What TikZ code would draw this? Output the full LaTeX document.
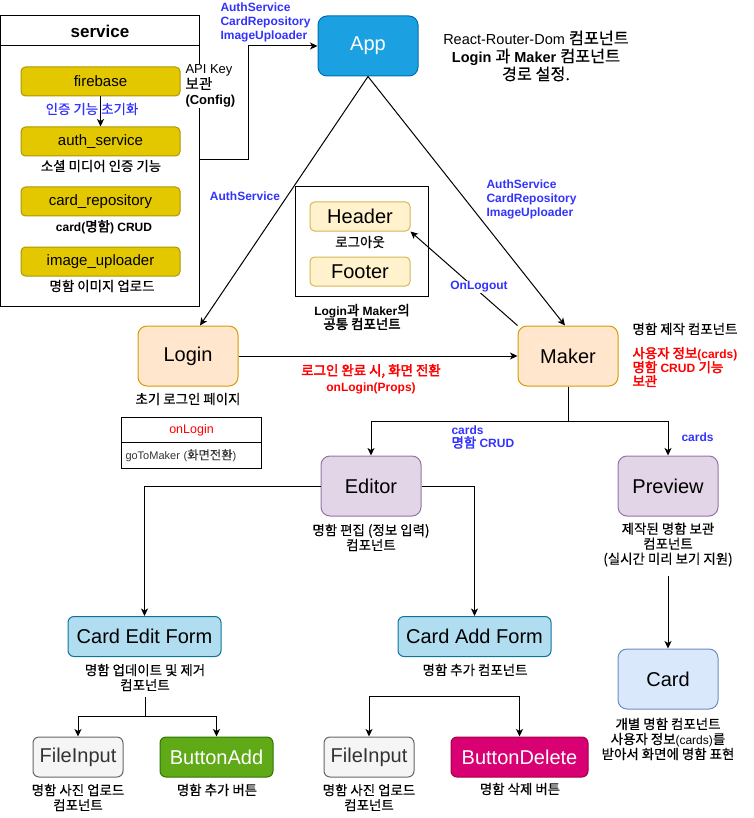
\documentclass[tikz,border=0pt]{standalone}
\usepackage{fontspec}
\setmainfont{Liberation Sans}
\newfontfamily\krfont[Scale=1.12,UprightFeatures={FakeBold=0.4},BoldFont={Noto Sans CJK KR},BoldFeatures={FakeBold=2.5}]{Noto Sans CJK KR}
\newcommand\kr[1]{{\krfont #1}}
\usetikzlibrary{arrows.meta}
\newcommand\fsz[2]{\fontsize{#1pt}{#2pt}\selectfont}
\definecolor{svcF}{HTML}{E3C800}\definecolor{svcS}{HTML}{B09500}
\definecolor{appF}{HTML}{1BA1E2}\definecolor{appS}{HTML}{006EAF}
\definecolor{orF}{HTML}{FFE6CC}\definecolor{orS}{HTML}{D79B00}
\definecolor{yeF}{HTML}{FFF2CC}\definecolor{yeS}{HTML}{D6B656}
\definecolor{puF}{HTML}{E1D5E7}\definecolor{puS}{HTML}{9673A6}
\definecolor{cyF}{HTML}{B1DDF0}\definecolor{cyS}{HTML}{10739E}
\definecolor{blF}{HTML}{DAE8FC}\definecolor{blS}{HTML}{6C8EBF}
\definecolor{grF}{HTML}{F5F5F5}\definecolor{grS}{HTML}{666666}\definecolor{grT}{HTML}{333333}
\definecolor{gnF}{HTML}{60A917}\definecolor{gnS}{HTML}{2D7600}
\definecolor{mgF}{HTML}{D80073}\definecolor{mgS}{HTML}{A50040}
\definecolor{lblue}{HTML}{3333FF}
\definecolor{lred}{HTML}{FF0000}
\begin{document}
\begin{tikzpicture}[x=1pt,y=-1pt,line width=1pt,
  arr/.style={-{Stealth[length=7.5pt,width=7pt,inset=2pt]}},
  svcitem/.style={draw=svcS,fill=svcF,rounded corners=4.5pt,minimum width=159pt,minimum height=29pt,inner sep=0pt,font=\fsz{15}{18}},
  bigbox/.style={rounded corners=9pt,minimum width=100pt,minimum height=60pt,inner sep=0pt,font=\fsz{20}{24}},
  midbox/.style={rounded corners=6pt,minimum height=40pt,inner sep=0pt,font=\fsz{20}{24}},
  smallbox/.style={draw=yeS,fill=yeF,rounded corners=4.5pt,minimum width=100pt,minimum height=29pt,inner sep=0pt,font=\fsz{20}{24}},
  lbl/.style={font=\fsz{12}{15},align=center,inner sep=0pt},
  bluelbl/.style={text=lblue,font=\bfseries\fsz{12}{14},align=left,inner sep=0pt},
  redlbl/.style={text=lred,font=\bfseries\fsz{12}{15},inner sep=0pt}]
\useasboundingbox (0,0) rectangle (753,818);

% service container
\node[draw,minimum width=198.5pt,minimum height=290pt,inner sep=0pt] (svc) at (99.75,161) {};
\draw (0.5,46) -- (199,46);
\node[font=\bfseries\fsz{17}{20}] (svctitle) at (100,31) {service};
\node[svcitem] (firebase) at (100.5,81.5) {firebase};
\node[svcitem] (auth) at (100.5,141.5) {auth\_service};
\node[svcitem] (cardrepo) at (100.5,201.5) {card\_repository};
\node[svcitem] (imgup) at (100.5,261.5) {image\_uploader};
\draw[arr] (firebase.south) -- (auth.north);
\node[lbl,text=lblue] (l-init) at (92,109) {\kr{인증 기능 초기화}};
\node[lbl] (l-auth) at (101,166) {\kr{소셜 미디어 인증 기능}};
\node[lbl,font=\bfseries\fsz{12}{15}] (l-card) at (104,227) {card(\kr{명함}) CRUD};
\node[lbl] (l-img) at (102,286) {\kr{명함 이미지 업로드}};
\node[fill=white,font=\fsz{13}{15.5},align=left,inner xsep=1pt,inner ysep=1pt,anchor=west] (apikey) at (184,86) {API Key\\\kr{보관}\\\textbf{(Config)}};

% App
\node[bigbox,draw=appS,fill=appF,text=white] (app) at (368,46) {App};
\coordinate (svcout) at (199,160);
\draw[arr] (svcout) -- (248,160) -- (248,46) -- (app.west);
\node[bluelbl,anchor=west] (l-svc) at (220,22) {AuthService\\CardRepository\\ImageUploader};
\node[font=\fsz{14.5}{18},align=center,inner sep=0pt] (l-app) at (536,56) {React-Router-Dom \kr{컴포넌트}\\\textbf{Login} \kr{과} \textbf{Maker} \kr{컴포넌트}\\\kr{경로 설정.}};

% Header / Footer
\node[draw,minimum width=133pt,minimum height=109pt,inner sep=0pt] (hf) at (361.5,241.5) {};
\node[smallbox] (header) at (360,216.5) {Header};
\node[smallbox] (footer) at (360,271.5) {Footer};
\node[lbl] (l-logout) at (360,242) {\kr{로그아웃}};
\node[lbl,font=\bfseries\fsz{12}{14}] (l-common) at (362,317) {Login\kr{과} Maker\kr{의}\\\kr{공통 컴포넌트}};

% Login / Maker
\node[bigbox,draw=orS,fill=orF] (login) at (188,356) {Login};
\node[bigbox,draw=orS,fill=orF] (maker) at (568,356) {Maker};
\draw[arr] (app.south) -- ([xshift=12pt]login.north);
\draw[arr] (app.south) -- ([xshift=-3pt]maker.north);
\node[bluelbl] (l-as) at (245,196) {AuthService};
\node[bluelbl,anchor=west] (l-acr) at (486,199) {AuthService\\CardRepository\\ImageUploader};
\draw[arr] (maker.north west) -- (header.south east);
\node[bluelbl,fill=white,inner sep=1pt] (l-onlogout) at (479,287) {OnLogout};
\draw[arr] (login.east) -- (maker.west);
\node[redlbl,align=center,font=\bfseries\fsz{12}{16}] (l-login) at (371,379) {\kr{로그인 완료 시, 화면 전환}\\onLogin(Props)};
\node[lbl] (l-loginpage) at (188,399) {\kr{초기 로그인 페이지}};
\node[draw,minimum width=140pt,minimum height=25pt,inner sep=0pt,anchor=north west,text=lred,font=\fsz{12.5}{15}] (onlogin) at (121,417) {onLogin};
\node[draw,text width=132pt,inner xsep=4pt,inner ysep=0pt,minimum height=26pt,align=left,anchor=north west,font=\fsz{11}{13},text=grT] (gotomaker) at (121,442) {goToMaker (\kr{화면전환})};
\node[lbl,anchor=west] (l-maker) at (632,329) {\kr{명함 제작 컴포넌트}};
\node[redlbl,align=left,font=\bfseries\fsz{12}{14},anchor=west] (l-makerred) at (632,367) {\kr{사용자 정보}(cards)\\\kr{명함} CRUD \kr{기능}\\\kr{보관}};

% Editor / Preview
\node[bigbox,draw=puS,fill=puF] (editor) at (371,486) {Editor};
\node[bigbox,draw=puS,fill=puF] (preview) at (668,486) {Preview};
\coordinate (msplit) at (568,421);
\draw (maker.south) -- (msplit);
\draw[arr] (msplit) -| (editor.north);
\draw[arr] (msplit) -| (preview.north);
\node[bluelbl,anchor=west,font=\bfseries\fsz{12}{13.5}] (l-cards1) at (451,437) {cards\\\kr{명함} CRUD};
\node[bluelbl,anchor=west] (l-cards2) at (681,437) {cards};
\node[lbl] (l-editor) at (371,537.5) {\kr{명함 편집 (정보 입력)}\\\kr{컴포넌트}};
\node[lbl] (l-preview) at (668,544.5) {\kr{제작된 명함 보관}\\\kr{컴포넌트}\\\kr{(실시간 미리 보기 지원)}};

% Forms
\node[midbox,draw=cyS,fill=cyF,minimum width=153pt] (cedit) at (144.5,636.5) {Card Edit Form};
\node[midbox,draw=cyS,fill=cyF,minimum width=153pt] (cadd) at (474.5,636.5) {Card Add Form};
\draw[arr] (editor.west) -| (cedit.north);
\draw[arr] (editor.east) -| (cadd.north);
\node[lbl] (l-cedit) at (145,677.5) {\kr{명함 업데이트 및 제거}\\\kr{컴포넌트}};
\node[lbl] (l-cadd) at (475,670) {\kr{명함 추가 컴포넌트}};

% Card
\node[bigbox,draw=blS,fill=blF] (card) at (668,679) {Card};
\coordinate (prevout) at (668,576);
\draw[arr] (prevout) -- (card.north);
\node[lbl] (l-card2) at (668,739) {\kr{개별 명함 컴포넌트}\\\kr{사용자 정보}(cards)\kr{를}\\\kr{받아서 화면에 명함 표현}};

% bottom row
\node[midbox,draw=grS,fill=grF,text=grT,minimum width=90pt] (fi1) at (78,757) {FileInput};
\node[midbox,draw=gnS,fill=gnF,text=white,minimum width=113pt] (badd) at (216.5,757) {ButtonAdd};
\node[midbox,draw=grS,fill=grF,text=grT,minimum width=90pt] (fi2) at (369,757) {FileInput};
\node[midbox,draw=mgS,fill=mgF,text=white,minimum width=137pt] (bdel) at (519.5,757) {ButtonDelete};
\coordinate (ceout) at (145,697);
\coordinate (cesplit) at (145,716);
\draw (ceout) -- (cesplit);
\draw[arr] (cesplit) -| (fi1.north);
\draw[arr] (cesplit) -| (badd.north);
\coordinate (casplit) at (445,696);
\draw[arr] (casplit) -| (fi2.north);
\draw[arr] (casplit) -| (bdel.north);
\node[lbl] (l-fi1) at (78,797.5) {\kr{명함 사진 업로드}\\\kr{컴포넌트}};
\node[lbl] (l-badd) at (217,790) {\kr{명함 추가 버튼}};
\node[lbl] (l-fi2) at (369,797.5) {\kr{명함 사진 업로드}\\\kr{컴포넌트}};
\node[lbl] (l-bdel) at (520,789) {\kr{명함 삭제 버튼}};
\end{tikzpicture}
\end{document}
